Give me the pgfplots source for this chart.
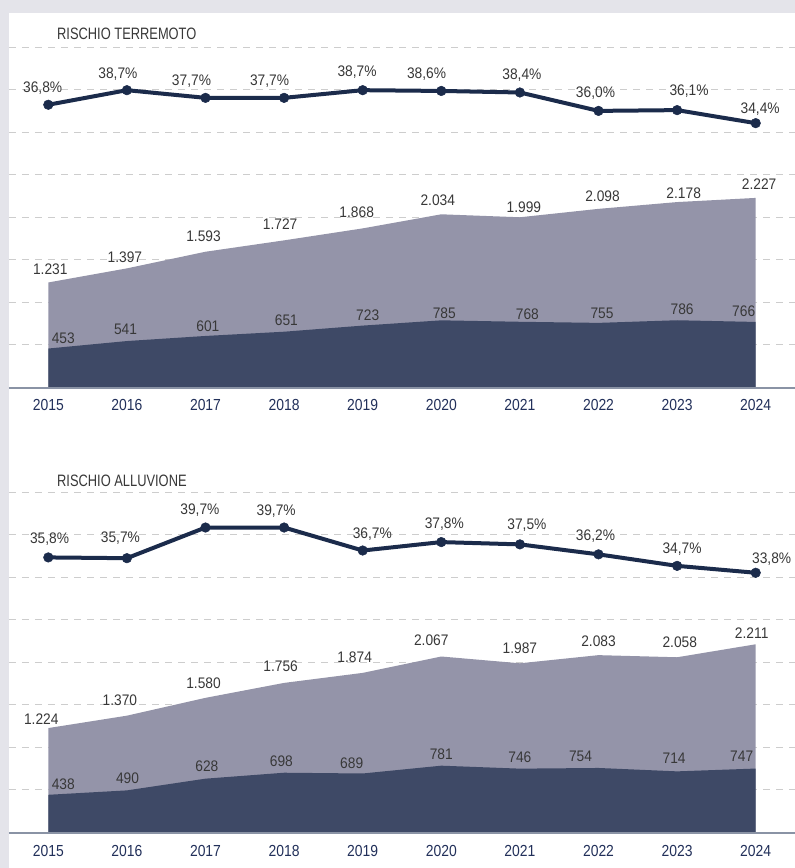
\documentclass[border=0pt]{standalone}
\usepackage{fontspec}
\setmainfont{Liberation Sans}[FakeStretch=0.9]
\newfontfamily\tickfam{Liberation Sans}[FakeStretch=0.87]
\newfontfamily\titlefam{Liberation Sans}[FakeStretch=0.78]
\usepackage{pgfplots}
\pgfplotsset{compat=1.18}
\usepackage{pgfplotstable}

\definecolor{bggray}{HTML}{E4E4EA}
\definecolor{lightarea}{HTML}{9494A9}
\definecolor{darkarea}{HTML}{3E4966}
\definecolor{linecol}{HTML}{1B2B4B}
\definecolor{gridcol}{HTML}{CDCDCD}
\definecolor{axiscol}{HTML}{8A93A5}
\definecolor{tickcol}{HTML}{22305A}
\definecolor{labcol}{HTML}{383838}

\newcommand\tickfont{\tickfam\fontsize{16}{19}\selectfont}
\newcommand\lblfont{\fontsize{15.3}{18}\selectfont}
\newcommand\titlefont{\titlefam\fontsize{16.5}{19}\selectfont}

% year, percentage, label shifts; total, label shifts; subset, label shifts
\pgfplotstableread{
year pct pdx pdy tot tdx tdy sub sdx sdy
2015 36.8 -5.6 12.6 1231 2 7.7 453 15 5.5
2016 38.7 -9 12 1397 -2 6 541 -1.4 7
2017 37.7 -14 12.3 1593 -2 10 601 2.4 4
2018 37.7 -14.5 12.3 1727 -4 10.4 651 2.3 6
2019 38.7 -5.6 13.6 1868 -6 11 723 5 4.6
2020 38.6 -14.7 12.7 2034 -3.5 8.7 785 3 2
2021 38.4 2 12.7 1999 4 5 768 7.5 2.5
2022 36.0 -3 13.4 2098 4 7 755 3.5 4
2023 36.1 12 14.3 2178 6.6 4 786 5 6
2024 34.4 4.5 9.3 2227 3.4 8 766 -12 5.3
}\dataA

\pgfplotstableread{
year pct pdx pdy tot tdx tdy sub sdx sdy
2015 35.8 1.3 14 1224 -7 4 438 15 5
2016 35.7 -6.5 15.7 1370 -7 9.7 490 0.6 7
2017 39.7 -5.6 13.3 1580 -2 9.6 628 1.4 7
2018 39.7 -7.9 11.6 1756 -3.5 11.2 698 -2.7 6
2019 36.7 9.6 11.6 1874 -8 10.6 689 -11 5
2020 37.8 3 13.3 2067 -10 11.5 781 0 5.7
2021 37.5 7 15 1987 0 10 746 0 6
2022 36.2 -3 14 2083 0 8.5 754 -18 6.3
2023 34.7 5 12.3 2058 2.7 10 714 -3 8
2024 33.8 16 9.3 2211 -4 6 747 -14 7
}\dataB

\tikzset{lbl/.style={inner sep=0pt, text depth=0pt, font=\lblfont, text=labcol}}

\pgfplotsset{
  /pgf/number format/assume math mode=true,
  base/.style={scale only axis, width=786pt, height=340.6pt,
    xmin=2014.5, xmax=2024.5, clip=false, anchor=south west},
  areaax/.style={base, ymin=-12, ymax=4000,
    axis line style={draw=none}, tick style={draw=none},
    ytick={500,1000,...,4000}, yticklabels={},
    ymajorgrids, grid style={gridcol, dash pattern=on 7pt off 6pt, line width=0.9pt},
    xtick={2015,2016,2017,2018,2019,2020,2021,2022,2023,2024},
    xticklabels={2015,2016,2017,2018,2019,2020,2021,2022,2023,2024},
    xticklabel style={anchor=base, yshift=-23pt, font=\tickfont, text=tickcol},
    extra y ticks={-12}, extra y tick labels={},
    extra y tick style={grid=major, major grid style={solid, draw=axiscol, line width=2pt}}},
  lineax/.style={base, ymin=-0.13, ymax=44.28, hide axis},
}

\newcommand\panel[2]{%
  \begin{axis}[areaax, at={(9pt,#2)}]
    \addplot[draw=none, fill=lightarea] table[x=year,y=tot]{#1} \closedcycle;
    \addplot[draw=none, fill=darkarea] table[x=year,y=sub]{#1} \closedcycle;
    \addplot[draw=none, mark=none, point meta=y,
      visualization depends on={\thisrow{tdx} \as \lblx},
      visualization depends on={\thisrow{tdy} \as \lbly},
      nodes near coords={\pgfmathprintnumber[fixed,precision=0,1000 sep={.}]{\pgfplotspointmeta}},
      every node near coord/.append style={lbl, anchor=base, xshift=\lblx, yshift=\lbly}]
      table[x=year,y=tot]{#1};
    \addplot[draw=none, mark=none, point meta=y,
      visualization depends on={\thisrow{sdx} \as \lblx},
      visualization depends on={\thisrow{sdy} \as \lbly},
      nodes near coords={\pgfmathprintnumber[fixed,precision=0,1000 sep={.}]{\pgfplotspointmeta}},
      every node near coord/.append style={lbl, anchor=base, xshift=\lblx, yshift=\lbly}]
      table[x=year,y=sub]{#1};
  \end{axis}
  \begin{axis}[lineax, at={(9pt,#2)}]
    \addplot[linecol, line width=4pt, mark=*, mark size=4.8pt,
      mark options={solid, fill=linecol, draw=linecol, line width=0.5pt},
      point meta=y,
      visualization depends on={\thisrow{pdx} \as \lblx},
      visualization depends on={\thisrow{pdy} \as \lbly},
      nodes near coords={\pgfmathprintnumber[fixed,fixed zerofill,precision=1,use comma]{\pgfplotspointmeta}\%},
      every node near coord/.append style={lbl, anchor=base, xshift=\lblx, yshift=\lbly}]
      table[x=year,y=pct]{#1};
  \end{axis}
}

\begin{document}
\begin{tikzpicture}
  \fill[bggray] (0pt,0pt) rectangle (795pt,868pt);
  \fill[white] (9pt,0pt) rectangle (795pt,855pt);
  \panel{\dataA}{480pt}
  \node[lbl, anchor=base west, font=\titlefont] at (57pt,828pt) {RISCHIO TERREMOTO};
  \panel{\dataB}{35pt}
  \node[lbl, anchor=base west, font=\titlefont] at (57pt,381.3pt) {RISCHIO ALLUVIONE};
  \pgfresetboundingbox
  \useasboundingbox (0pt,0pt) rectangle (795pt,868pt);
\end{tikzpicture}
\end{document}
